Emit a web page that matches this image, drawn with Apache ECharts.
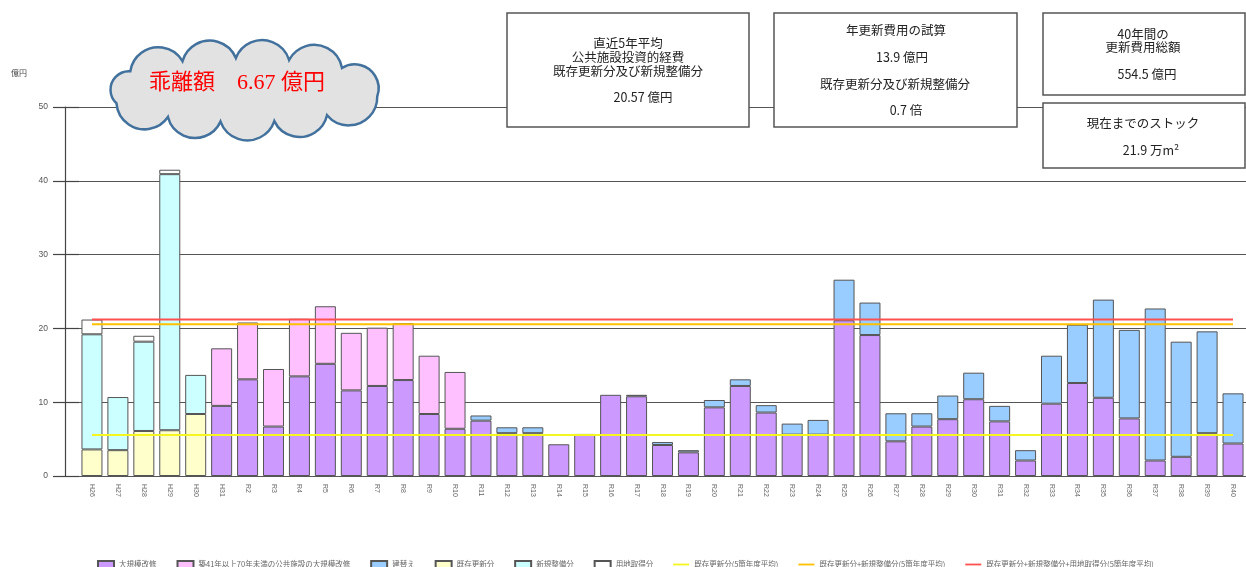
<!DOCTYPE html>
<html>
<head>
<meta charset="utf-8">
<script src="https://cdn.jsdelivr.net/npm/echarts@6/dist/echarts.min.js"></script>
<style>
  html, body { margin: 0; padding: 0; background: #fff; }
  #chart { width: 1246px; height: 567px; }
</style>
</head>
<body>
<div id="chart"></div>
<script>
// 年度
var years = ['H26', 'H27', 'H28', 'H29', 'H30', 'H31', 'R2', 'R3', 'R4', 'R5', 'R6', 'R7', 'R8', 'R9', 'R10',
  'R11', 'R12', 'R13', 'R14', 'R15', 'R16', 'R17', 'R18', 'R19', 'R20', 'R21', 'R22', 'R23', 'R24', 'R25',
  'R26', 'R27', 'R28', 'R29', 'R30', 'R31', 'R32', 'R33', 'R34', 'R35', 'R36', 'R37', 'R38', 'R39', 'R40']

// 億円
var largeRepair = [null, null, null, null, null, 9.5, 13.1, 6.7, 13.5, 15.2, 11.6, 12.2, 13.0, 8.4, 6.4,
  7.5, 5.8, 5.8, 4.3, 5.7, 11.0, 10.8, 4.2, 3.2, 9.3, 12.2, 8.6, 5.6, 5.6, 21.1,
  19.1, 4.7, 6.7, 7.7, 10.4, 7.4, 2.1, 9.8, 12.6, 10.6, 7.8, 2.1, 2.6, 5.8, 4.4]
var oldRepair = [null, null, null, null, null, 7.8, 7.7, 7.8, 7.8, 7.8, 7.8, 7.9, 7.7, 7.9, 7.7,
  null, null, null, null, null, null, null, null, null, null, null, null, null, null, null,
  null, null, null, null, null, null, null, null, null, null, null, null, null, null, null]
var rebuild = [null, null, null, null, null, null, null, null, null, null, null, null, null, null, null,
  0.7, 0.8, 0.8, null, null, null, 0.2, 0.4, 0.3, 1.0, 0.9, 1.0, 1.5, 2.0, 5.5,
  4.4, 3.8, 1.8, 3.2, 3.6, 2.1, 1.4, 6.5, 7.9, 13.3, 12.0, 20.6, 15.6, 13.8, 6.8]
var existing = [3.6, 3.5, 6.1, 6.2, 8.4, null, null, null, null, null, null, null, null, null, null,
  null, null, null, null, null, null, null, null, null, null, null, null, null, null, null,
  null, null, null, null, null, null, null, null, null, null, null, null, null, null, null]
var newDev = [15.6, 7.2, 12.1, 34.7, 5.3, null, null, null, null, null, null, null, null, null, null,
  null, null, null, null, null, null, null, null, null, null, null, null, null, null, null,
  null, null, null, null, null, null, null, null, null, null, null, null, null, null, null]
var land = [2.0, null, 0.8, 0.6, null, null, null, null, null, null, null, null, null, null, null,
  null, null, null, null, null, null, null, null, null, null, null, null, null, null, null,
  null, null, null, null, null, null, null, null, null, null, null, null, null, null, null]

// 5箇年度平均
var avgExisting = 5.56
var avgExistNew = 20.57
var avgAll = 21.2

var yTicks = [0, 10, 20, 30, 40, 50]

var chart = echarts.init(document.getElementById('chart'))

var boxFont = '12.5px "Liberation Sans Narrow", "Noto Sans CJK JP", sans-serif'
// 凡例の線アイコン（上下に空白を残す）
var lineIcon = 'path://M0,0L0,0M0,2.6H16V4.4H0ZM16,7L16,7'

function barSeries(name, data, color) {
  return {
    name: name,
    type: 'bar',
    stack: 'total',
    barWidth: 21,
    data: data,
    itemStyle: {
      color: color,
      borderColor: '#555',
      borderWidth: 1
    }
  }
}

function avgLine(name, value, color) {
  return {
    name: name,
    type: 'line',
    symbol: 'none',
    z: 5,
    data: [[years[0], value], [years[years.length - 1], value]],
    itemStyle: { color: color },
    lineStyle: { color: color, width: 2 }
  }
}

function label(text, x, y, font, fill) {
  return {
    type: 'text',
    z: 100,
    style: {
      text: text,
      x: x,
      y: y,
      font: font || boxFont,
      fill: fill || '#222',
      textAlign: 'center',
      textVerticalAlign: 'middle'
    }
  }
}

function box(x, y, w, h) {
  return {
    type: 'rect',
    z: 90,
    shape: { x: x, y: y, width: w, height: h },
    style: { fill: '#fff', stroke: '#555', lineWidth: 1.5 }
  }
}

// 雲形（楕円を等しい弧長で区切り、外向きの円弧でつなぐ）
function cloudPath(cx, cy, rx, ry, n) {
  var fine = []
  var total = 0
  for (var k = 0; k <= 720; k++) {
    var a = Math.PI * 2 * k / 720 + 0.2
    var p = [cx + rx * Math.cos(a), cy + ry * Math.sin(a)]
    if (k > 0) {
      var q = fine[k - 1]
      total += Math.sqrt((p[0] - q[0]) * (p[0] - q[0]) + (p[1] - q[1]) * (p[1] - q[1]))
    }
    p.push(total)
    fine.push(p)
  }
  var pts = []
  var idx = 0
  for (var i = 0; i < n; i++) {
    var target = total * i / n
    while (fine[idx][2] < target) idx++
    pts.push(fine[idx])
  }
  pts.push(pts[0])
  var d = 'M' + pts[0][0] + ',' + pts[0][1]
  for (var j = 1; j <= n; j++) {
    var dx = pts[j][0] - pts[j - 1][0]
    var dy = pts[j][1] - pts[j - 1][1]
    var r = Math.sqrt(dx * dx + dy * dy) * 0.53
    d += ' A' + r + ',' + r + ' 0 0 1 ' + pts[j][0] + ',' + pts[j][1]
  }
  return d + ' Z'
}
echarts.graphic.registerShape('cloud', echarts.graphic.extendPath(cloudPath(242, 90, 138, 32, 11), {}))

chart.setOption({
  animation: false,
  grid: {
    left: 79,
    right: 0,
    top: 107,
    bottom: 91
  },
  legend: {
    left: 92,
    top: 555,
    itemGap: 20,
    itemWidth: 16,
    itemHeight: 7,
    textStyle: {
      fontSize: 7.5,
      color: '#666',
      fontFamily: '"Noto Sans CJK JP", sans-serif'
    },
    data: [
      { name: '大規模改修', icon: 'rect' },
      { name: '築41年以上70年未満の公共施設の大規模改修', icon: 'rect' },
      { name: '建替え', icon: 'rect' },
      { name: '既存更新分', icon: 'rect' },
      { name: '新規整備分', icon: 'rect' },
      { name: '用地取得分', icon: 'rect' },
      { name: '既存更新分(5箇年度平均)', icon: lineIcon },
      { name: '既存更新分+新規整備分(5箇年度平均)', icon: lineIcon },
      { name: '既存更新分+新規整備分+用地取得分(5箇年度平均)', icon: lineIcon }
    ]
  },
  xAxis: {
    type: 'category',
    data: years,
    axisLine: { lineStyle: { color: '#555', width: 1.2 } },
    axisTick: { alignWithLabel: true, length: 5, lineStyle: { color: '#555' } },
    axisLabel: {
      rotate: -90,
      margin: 8,
      fontSize: 7,
      color: '#666',
      fontFamily: '"Liberation Sans Narrow", sans-serif'
    }
  },
  yAxis: [
    {
      type: 'value',
      position: 'left',
      offset: 14,
      min: yTicks[0],
      max: yTicks[yTicks.length - 1],
      interval: 10,
      axisLine: { show: true, lineStyle: { color: '#444', width: 1.2 } },
      axisTick: { show: true, inside: true, length: 14, lineStyle: { color: '#444', width: 1.2 } },
      axisLabel: { margin: 17, fontSize: 8.5, color: '#555' },
      splitLine: { lineStyle: { color: '#555', width: 1.2 } }
    },
    {
      type: 'value',
      position: 'left',
      offset: 14,
      min: yTicks[0],
      max: yTicks[yTicks.length - 1],
      interval: 10,
      axisLine: { show: false },
      axisTick: { show: true, length: 12, lineStyle: { color: '#444', width: 1.2 } },
      axisLabel: { show: false },
      splitLine: { show: false }
    }
  ],
  series: [
    barSeries('大規模改修', largeRepair, '#cc99ff'),
    barSeries('築41年以上70年未満の公共施設の大規模改修', oldRepair, '#ffc0ff'),
    barSeries('建替え', rebuild, '#99ccff'),
    barSeries('既存更新分', existing, '#ffffcc'),
    barSeries('新規整備分', newDev, '#ccffff'),
    barSeries('用地取得分', land, '#ffffff'),
    avgLine('既存更新分(5箇年度平均)', avgExisting, '#f5f520'),
    avgLine('既存更新分+新規整備分(5箇年度平均)', avgExistNew, '#ffc000'),
    avgLine('既存更新分+新規整備分+用地取得分(5箇年度平均)', avgAll, '#ff5050')
  ],
  graphic: [
    label('億円', 19, 73, '8px "Noto Sans CJK JP", sans-serif', '#444'),
    {
      type: 'cloud',
      z: 80,
      style: { fill: '#e2e2e2', stroke: '#41719c', lineWidth: 2.5 }
    },
    label('乖離額　6.67 億円', 237, 83, '22px "Liberation Serif", "Noto Sans CJK JP", serif', '#ff0000'),

    box(507, 13, 242, 114),
    label('直近5年平均', 628, 43),
    label('公共施設投資的経費', 628, 57),
    label('既存更新分及び新規整備分', 628, 71),
    label('20.57 億円', 643, 97),

    box(774, 13, 243, 114),
    label('年更新費用の試算', 896, 30),
    label('13.9 億円', 902, 57),
    label('既存更新分及び新規整備分', 895, 84),
    label('0.7 倍', 906, 110),

    box(1043, 13, 202, 82),
    label('40年間の', 1143, 34),
    label('更新費用総額', 1143, 47),
    label('554.5 億円', 1147, 74),

    box(1043, 103, 202, 65),
    label('現在までのストック', 1143, 123),
    label('21.9 万m²', 1151, 150)
  ]
})
</script>
</body>
</html>
